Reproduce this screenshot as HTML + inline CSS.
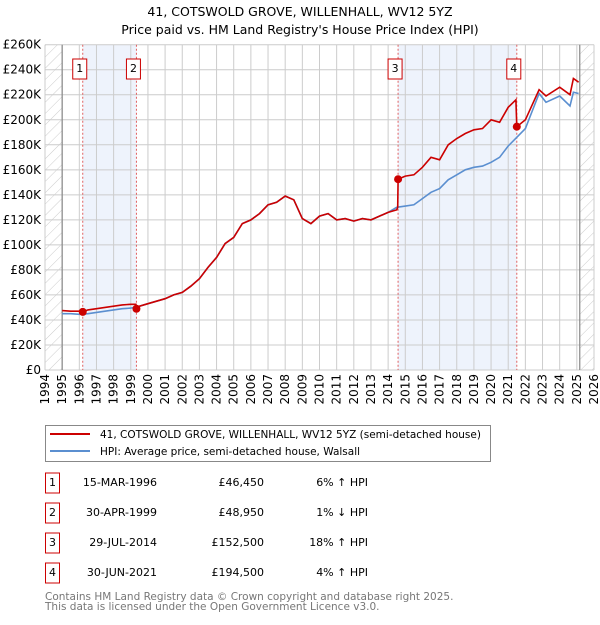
<!DOCTYPE html>
<html><head><meta charset="utf-8"><style>
body{margin:0;background:#fff;font-family:"Liberation Sans","DejaVu Sans",sans-serif;}
svg text{font-family:"DejaVu Sans","Liberation Sans",sans-serif;}
</style></head><body>
<svg id="c" width="600" height="620" xmlns="http://www.w3.org/2000/svg">
<defs><pattern id="h" width="8" height="8" patternUnits="userSpaceOnUse" patternTransform="rotate(45)"><line x1="0" y1="0" x2="0" y2="8" stroke="#ccc" stroke-width="1"/></pattern></defs>
<text x="300" y="16" font-size="12.5" text-anchor="middle">41, COTSWOLD GROVE, WILLENHALL, WV12 5YZ</text>
<text x="300" y="34" font-size="12.5" text-anchor="middle">Price paid vs. HM Land Registry's House Price Index (HPI)</text>
<g id="plot"></g>
<g>
<rect x="45.5" y="425.5" width="445" height="36" fill="#fff" stroke="#888"/>
<line x1="50" y1="434" x2="90" y2="434" stroke="#cc0000" stroke-width="2"/>
<text x="100" y="438" font-size="10.5">41, COTSWOLD GROVE, WILLENHALL, WV12 5YZ (semi-detached house)</text>
<line x1="50" y1="451" x2="90" y2="451" stroke="#5b8fd0" stroke-width="2"/>
<text x="100" y="455" font-size="10.5">HPI: Average price, semi-detached house, Walsall</text>
</g>
<g id="tbl" font-size="11"></g>
<text x="45" y="600" font-size="10.5" fill="#777">Contains HM Land Registry data © Crown copyright and database right 2025.</text>
<text x="45" y="610" font-size="10.5" fill="#777">This data is licensed under the Open Government Licence v3.0.</text>
</svg>
<script>
const yTicks=[0,20,40,60,80,100,120,140,160,180,200,220,240,260];
const years=[1994,1995,1996,1997,1998,1999,2000,2001,2002,2003,2004,2005,2006,2007,2008,2009,2010,2011,2012,2013,2014,2015,2016,2017,2018,2019,2020,2021,2022,2023,2024,2025,2026];
const hpiDates=[1995,1995.5,1996,1996.5,1997,1997.5,1998,1998.5,1999,1999.5,2000,2000.5,2001,2001.5,2002,2002.5,2003,2003.5,2004,2004.5,2005,2005.5,2006,2006.5,2007,2007.5,2008,2008.5,2009,2009.5,2010,2010.5,2011,2011.5,2012,2012.5,2013,2013.5,2014,2014.5,2015,2015.5,2016,2016.5,2017,2017.5,2018,2018.5,2019,2019.5,2020,2020.5,2021,2021.5,2022,2022.8,2023.2,2024,2024.6,2024.8,2025.1];
const hpiVals=[45,45,44.5,45,46,47,48,49,49.5,51,53,55,57,60,62,67,73,82,90,101,106,117,120,125,132,134,139,136,121,117,123,125,120,121,119,121,120,123,126,130,131,132,137,142,145,152,156,160,162,163,166,170,179,186,193,221,214,219,211,222,221];
const redDates=[1995,1995.5,1996,1996.2,1996.5,1997,1997.5,1998,1998.5,1999,1999.3,1999.33,1999.5,2000,2000.5,2001,2001.5,2002,2002.5,2003,2003.5,2004,2004.5,2005,2005.5,2006,2006.5,2007,2007.5,2008,2008.5,2009,2009.5,2010,2010.5,2011,2011.5,2012,2012.5,2013,2013.5,2014,2014.5,2014.56,2014.58,2015,2015.5,2016,2016.5,2017,2017.5,2018,2018.5,2019,2019.5,2020,2020.5,2021,2021.45,2021.5,2022,2022.8,2023.2,2024,2024.6,2024.8,2025.1];
const redVals=[47.5,47,47,46.45,48,49,50,51,52,52.5,52.5,48.95,51,53,55,57,60,62,67,73,82,90,101,106,117,120,125,132,134,139,136,121,117,123,125,120,121,119,121,120,123,126,128,130,152.5,155,156,162,170,168,180,185,189,192,193,200,198,210,216,194.5,200,224,219,226,220,233,230];
const saleDates=[1996.2,1999.33,2014.58,2021.5];
const saleVals=[46.45,48.95,152.5,194.5];
const saleLabels=["1","2","3","4"];
const saleDateText=["15-MAR-1996","30-APR-1999","29-JUL-2014","30-JUN-2021"];
const salePriceText=["£46,450","£48,950","£152,500","£194,500"];
const saleHpiText=["6% ↑ HPI","1% ↓ HPI","18% ↑ HPI","4% ↑ HPI"];

const X0=45,X1=594,Y0=370,Y1=44.7;
const x=d=>X0+(d-1994)/32*(X1-X0);
const y=v=>Y0-v/260*(Y0-Y1);
const NS="http://www.w3.org/2000/svg";
function mk(p,t,a){const e=document.createElementNS(NS,t);for(const k in a)e.setAttribute(k,a[k]);p.appendChild(e);return e;}
const g=document.getElementById('plot');
for(let i=0;i<4;i+=2){
 const r=mk(g,'rect',{x:x(saleDates[i]),y:Y1,width:x(saleDates[i+1])-x(saleDates[i]),height:Y0-Y1,fill:'#eef3fc'});
 
 
}
const h1=mk(g,'rect',{x:X0,y:Y1,width:x(1995)-X0,height:Y0-Y1,fill:'url(#h)'});


const h2=mk(g,'rect',{x:x(2025.17),y:Y1,width:X1-x(2025.17),height:Y0-Y1,fill:'url(#h)'});


yTicks.forEach(v=>{
 const l=mk(g,'line',{x1:X0,x2:X1,y1:y(v),y2:y(v),stroke:'#ccc','stroke-width':1});
 
 
 const t=mk(g,'text',{x:X0-4,y:y(v)+4,'font-size':12,'text-anchor':'end'});
 t.textContent=v===0?'£0':'£'+v+'K';
 
 
});
years.forEach(yr=>{
 const l=mk(g,'line',{x1:x(yr),x2:x(yr),y1:Y1,y2:Y0,stroke:'#ccc','stroke-width':1});
 
 
 const t=mk(g,'text',{x:0,y:0,'font-size':12,'text-anchor':'end',transform:`translate(${x(yr)+4},374) rotate(-90)`});
 t.textContent=yr;
 
 
});
const b1=mk(g,'line',{x1:x(1995),x2:x(1995),y1:Y1,y2:Y0,stroke:'#888','stroke-width':1.2});


const b2=mk(g,'line',{x1:x(2025.17),x2:x(2025.17),y1:Y1,y2:Y0,stroke:'#888','stroke-width':1.2});


saleDates.forEach((d,i)=>{
 const l=mk(g,'line',{x1:x(d),x2:x(d),y1:Y1,y2:Y0,stroke:'#e06060','stroke-width':1,'stroke-dasharray':'2,2'});
 
 
});
const pts=(ds,vs)=>ds.map((d,i)=>x(d).toFixed(1)+','+y(vs[i]).toFixed(1)).join(' ');
const hp=mk(g,'polyline',{points:pts(hpiDates,hpiVals),fill:'none',stroke:'#5b8fd0','stroke-width':1.6});


const rp=mk(g,'polyline',{points:pts(redDates,redVals),fill:'none',stroke:'#cc0000','stroke-width':1.6});


saleDates.forEach((d,i)=>{
 const c=mk(g,'circle',{cx:x(d),cy:y(saleVals[i]),r:4,fill:'#cc0000'});
 
 
 const bx=mk(g,'rect',{x:x(d)-3-7,y:59,width:14,height:20,fill:'#fff',stroke:'#cc0000'});
 
 
 const t=mk(g,'text',{x:x(d)-3,y:72,'font-size':11,'text-anchor':'middle'});
 t.textContent=saleLabels[i];
 
 
});
const tb=document.getElementById('tbl');
saleLabels.forEach((s,i)=>{
 const cy=483+i*30;
 const r=mk(tb,'rect',{x:45.5,y:cy-10,width:14,height:20,fill:'#fff',stroke:'#cc0000'});
 
 
 const a=mk(tb,'text',{x:52.5,y:cy+3,'text-anchor':'middle'});a.textContent=s;
 
 
 const b=mk(tb,'text',{x:157,y:cy+3,'text-anchor':'end'});b.textContent=saleDateText[i];
 
 
 const c=mk(tb,'text',{x:264,y:cy+3,'text-anchor':'end'});c.textContent=salePriceText[i];
 
 
 const e=mk(tb,'text',{x:368,y:cy+3,'text-anchor':'end'});e.textContent=saleHpiText[i];
 
 
});
</script>
</body></html>
